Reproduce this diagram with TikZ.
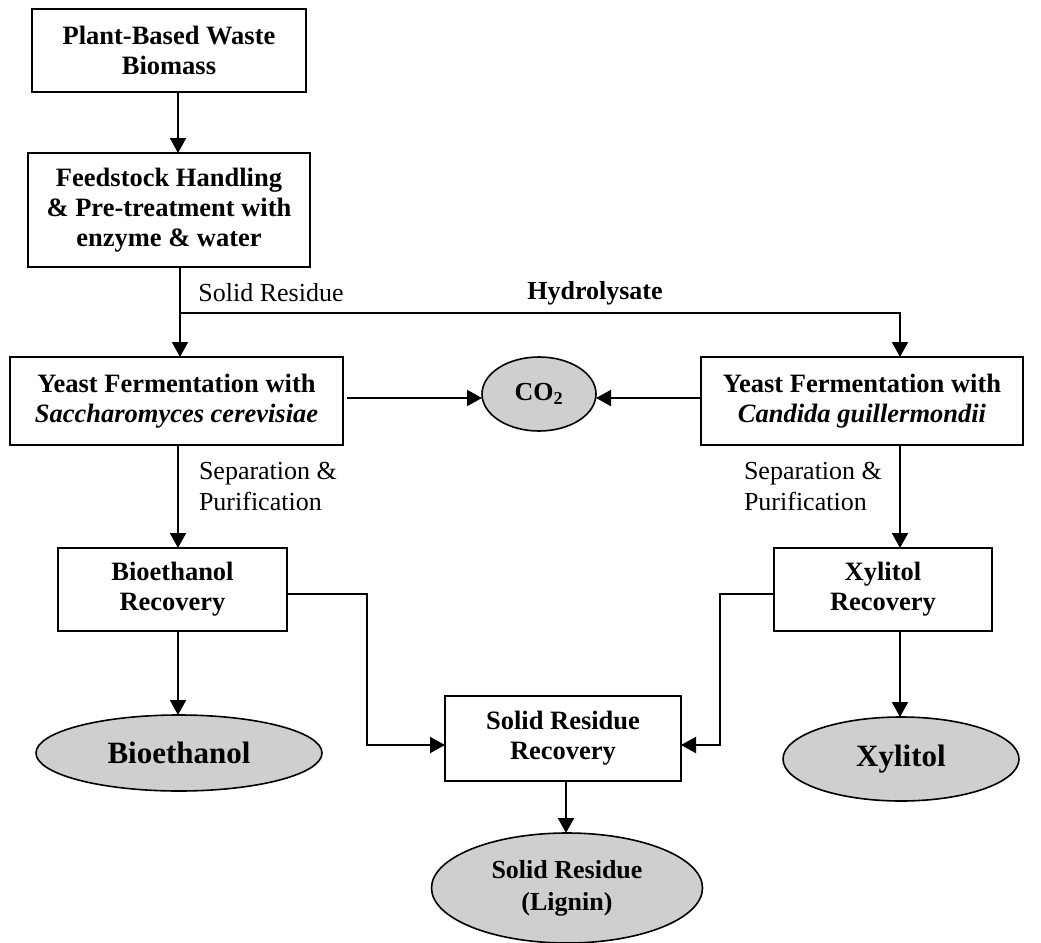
\documentclass[tikz,border=0pt]{standalone}
\usepackage{fontspec}
\setmainfont{Liberation Serif}
\usetikzlibrary{arrows.meta,shapes.geometric}
\definecolor{ovalgray}{RGB}{208,206,208}
\begin{document}
\begin{tikzpicture}[x=1pt,y=-1pt,
  every node/.style={inner sep=0pt, outer sep=0pt},
  boxnode/.style={draw, line width=2pt, align=center, font=\fontsize{26.5}{30}\selectfont\bfseries},
  ovalnode/.style={draw, ellipse, fill=ovalgray, line width=1.6pt, align=center, font=\fontsize{26}{32}\selectfont\bfseries},
  lbl/.style={align=left, font=\fontsize{26}{31}\selectfont},
  conn/.style={line width=2pt},
  arr/.style={line width=2pt, -{Triangle[length=15pt,width=16pt]}}
]
\useasboundingbox (0,0) rectangle (1041,942);

% boxes
\node[boxnode, minimum width=274pt, minimum height=83pt] (plant) at (169,50.5) {Plant-Based Waste\\Biomass};
\node[boxnode, minimum width=282pt, minimum height=114pt] (feed) at (169,210) {Feedstock Handling\\\& Pre-treatment with\\enzyme \& water};
\node[boxnode, minimum width=333pt, minimum height=88pt] (sacch) at (176.5,401) {Yeast Fermentation with\\\textit{Saccharomyces cerevisiae}};
\node[boxnode, minimum width=322pt, minimum height=88pt] (cand) at (862,401) {Yeast Fermentation with\\\textit{Candida guillermondii}};
\node[boxnode, minimum width=229pt, minimum height=83pt] (bioR) at (172.5,589.5) {Bioethanol\\Recovery};
\node[boxnode, minimum width=218pt, minimum height=83pt] (xylR) at (883,589.5) {Xylitol\\Recovery};
\node[boxnode, minimum width=236pt, minimum height=85pt] (solR) at (563,738.5) {Solid Residue\\Recovery};

% ovals
\node[ovalnode, minimum width=114pt, minimum height=74pt] (co2) at (539,394) {CO\textsubscript{2}};
\node[ovalnode, minimum width=286pt, minimum height=76pt, font=\fontsize{31}{34}\selectfont\bfseries] (bioE) at (179,753) {Bioethanol};
\node[ovalnode, minimum width=236pt, minimum height=84pt, font=\fontsize{31}{34}\selectfont\bfseries] (xylE) at (901,759) {Xylitol};
\node[ovalnode, minimum width=271pt, minimum height=110pt] (lig) at (567,888) {Solid Residue\\(Lignin)};

% labels
\node[lbl, anchor=center] (lsr) at (271,293) {Solid Residue};
\node[lbl, anchor=center, font=\fontsize{26}{31}\selectfont\bfseries] (lhy) at (595,293) {Hydrolysate};
\node[lbl, anchor=west] (lsp1) at (199,486.5) {Separation \&\\Purification};
\node[lbl, anchor=west] (lsp2) at (744,486.5) {Separation \&\\Purification};

% junction coordinates
\coordinate (j) at (180,313);
\coordinate (k) at (900,313);
\coordinate (b1) at (367,594);
\coordinate (b2) at (367,745);
\coordinate (x1) at (720,594);
\coordinate (x2) at (720,745);

% connectors
\draw[arr] (plant.south -| 178,0) -- (feed.north -| 178,0);
\draw[conn] (feed.south -| j) -- (j);
\draw[arr] (j) -- (sacch.north -| j);
\draw[arr] (j) -- (k) -- (cand.north -| k);
\draw[arr, shorten <=4pt] (sacch.east |- 0,398) -- (co2.west |- 0,398);
\draw[arr] (cand.west |- 0,398) -- (co2.east |- 0,398);
\draw[arr] (sacch.south -| 178,0) -- (bioR.north -| 178,0);
\draw[arr] (cand.south -| k) -- (xylR.north -| k);
\draw[arr] (bioR.south -| 178,0) -- (bioE.north -| 178,0);
\draw[arr] (xylR.south -| k) -- (xylE.north -| k);
\draw[arr] (bioR.east |- b1) -- (b1) -- (b2) -- (b2 -| solR.west);
\draw[arr] (xylR.west |- x1) -- (x1) -- (x2) -- (x2 -| solR.east);
\draw[arr] (solR.south -| 566,0) -- (lig.north -| 566,0);
\end{tikzpicture}
\end{document}
